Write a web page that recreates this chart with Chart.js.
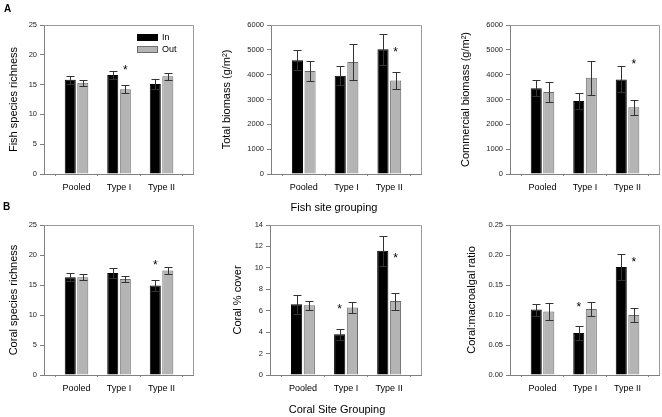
<!DOCTYPE html>
<html>
<head>
<meta charset="utf-8">
<script src="https://cdn.jsdelivr.net/npm/chart.js@4/dist/chart.umd.min.js"></script>
<style>
  body { margin: 0; background: #fff; }
  #wrap { position: relative; width: 662px; height: 417px; overflow: hidden; font-family: 'Liberation Sans', Arial, sans-serif; }
  canvas { position: absolute; left: 0; top: 0; }
  .lbl { position: absolute; color: #000; white-space: nowrap; }
  .panel { font-weight: bold; font-size: 10px; line-height: 10px; }
  .group { width: 200px; text-align: center; font-size: 11px; line-height: 14px; }
</style>
</head>
<body>
<div id="wrap">
  <canvas id="a1" width="662" height="417"></canvas>
  <canvas id="a2" width="662" height="417"></canvas>
  <canvas id="a3" width="662" height="417"></canvas>
  <canvas id="b1" width="662" height="417"></canvas>
  <canvas id="b2" width="662" height="417"></canvas>
  <canvas id="b3" width="662" height="417"></canvas>
  <div class="lbl panel" style="left:4px; top:4px;">A</div>
  <div class="lbl panel" style="left:3px; top:202px;">B</div>
  <div class="lbl group" style="left:234px; top:200px;">Fish site grouping</div>
  <div class="lbl group" style="left:237px; top:402px;">Coral Site Grouping</div>
</div>
<script>
const groups = ['Pooled', 'Type I', 'Type II'];
const seriesNames = ['In', 'Out'];

// A - fish site grouping
const fishRichIn = [15.8, 16.6, 15.1];
const fishRichInErr = [0.7, 0.6, 0.9];
const fishRichOut = [15.3, 14.2, 16.4];
const fishRichOutErr = [0.55, 0.65, 0.6];
const fishRichStars = [[1, 1, 18.0]];        // [group, series, height]

const totalBioIn = [4580, 3960, 5020];
const totalBioInErr = [400, 375, 630];
const totalBioOut = [4150, 4510, 3770];
const totalBioOutErr = [410, 725, 340];
const totalBioStars = [[2, 1, 5030]];

const commBioIn = [3450, 2940, 3810];
const commBioInErr = [320, 310, 520];
const commBioOut = [3300, 3880, 2690];
const commBioOutErr = [400, 680, 310];
const commBioStars = [[2, 1, 4550]];

// B - coral site grouping
const coralRichIn = [16.3, 17.0, 14.9];
const coralRichInErr = [0.7, 0.85, 0.9];
const coralRichOut = [16.3, 16.0, 17.4];
const coralRichOutErr = [0.5, 0.55, 0.6];
const coralRichStars = [[2, 0, 18.9]];

const coverIn = [6.6, 3.8, 11.6];
const coverInErr = [0.9, 0.5, 1.4];
const coverOut = [6.5, 6.3, 6.9];
const coverOutErr = [0.45, 0.5, 0.8];
const coverStars = [[1, 0, 6.45], [2, 1, 11.2]];

const ratioIn = [0.109, 0.070, 0.180];
const ratioInErr = [0.010, 0.012, 0.021];
const ratioOut = [0.106, 0.110, 0.100];
const ratioOutErr = [0.014, 0.011, 0.011];
const ratioStars = [[1, 0, 0.119], [2, 1, 0.194]];

// y axis ranges: [min, max, step]
const richnessAxis = [0, 25, 5];
const biomassAxis = [0, 6000, 1000];
const coverAxis = [0, 14, 2];
const ratioAxis = [0, 0.25, 0.05];

Chart.defaults.font.family = "'Liberation Sans', Arial, sans-serif";

const inColor = '#000000';
const outColor = '#b4b4b4';
const axisGray = '#808080';

function makePanel(id, p) {
  const titleLine = 11;
  const padLeft = p.titleX - titleLine / 2;
  const xAxisH = 24;
  const [l, r, t, b] = p.box;

  const extras = {
    id: 'extras_' + id,
    afterDatasetsDraw(chart) {
      const ctx = chart.ctx;
      const ys = chart.scales.y;
      const area = chart.chartArea;
      ctx.save();
      // error bars
      ctx.strokeStyle = '#333';
      ctx.lineWidth = 1;
      chart.data.datasets.forEach((ds, di) => {
        chart.getDatasetMeta(di).data.forEach((bar, i) => {
          const v = ds.data[i].y, e = ds.errors[i];
          const x = Math.round(bar.x) + 0.5;
          const top = Math.round(ys.getPixelForValue(v + e)) + 0.5;
          const bot = Math.round(ys.getPixelForValue(v - e)) + 0.5;
          ctx.beginPath();
          ctx.moveTo(x, top); ctx.lineTo(x, bot);
          ctx.moveTo(x - 4, top); ctx.lineTo(x + 4, top);
          ctx.moveTo(x - 4, bot); ctx.lineTo(x + 4, bot);
          ctx.stroke();
        });
      });
      // significance stars
      ctx.fillStyle = '#000';
      ctx.font = "12px 'Liberation Sans', Arial, sans-serif";
      ctx.textAlign = 'center';
      ctx.textBaseline = 'alphabetic';
      p.stars.forEach(([g, s, h]) => {
        const bar = chart.getDatasetMeta(s).data[g];
        ctx.fillText('*', bar.x, ys.getPixelForValue(h) + 7);
      });
      // top and right frame lines
      ctx.strokeStyle = '#9a9a9a';
      ctx.beginPath();
      ctx.moveTo(area.left, Math.round(area.top) + 0.5);
      ctx.lineTo(Math.round(area.right) + 0.5, Math.round(area.top) + 0.5);
      ctx.lineTo(Math.round(area.right) + 0.5, area.bottom);
      ctx.stroke();
      // legend
      if (p.legend) {
        const colors = [inColor, outColor];
        const borders = ['#000', '#6c6c6c'];
        ctx.font = "9px 'Liberation Sans', Arial, sans-serif";
        ctx.textAlign = 'left';
        ctx.textBaseline = 'middle';
        seriesNames.forEach((name, k) => {
          const bx = area.right - 56, by = area.top + 9 + k * 12;
          ctx.fillStyle = colors[k];
          ctx.fillRect(bx, by, 21, 7);
          ctx.strokeStyle = borders[k];
          ctx.strokeRect(bx + 0.5, by + 0.5, 20, 6);
          ctx.fillStyle = '#000';
          ctx.fillText(name, bx + 25, by + 4);
        });
      }
      ctx.restore();
    }
  };

  const toPoints = vals => vals.map((v, i) => ({ x: i, y: v }));

  return new Chart(document.getElementById(id), {
    type: 'bar',
    data: {
      datasets: [
        { label: seriesNames[0], data: toPoints(p.inVals), errors: p.inErr,
          backgroundColor: inColor, borderColor: '#000', borderWidth: 1,
          categoryPercentage: 0.59, barPercentage: 0.88 },
        { label: seriesNames[1], data: toPoints(p.outVals), errors: p.outErr,
          backgroundColor: outColor, borderColor: '#6c6c6c', borderWidth: 1,
          categoryPercentage: 0.59, barPercentage: 0.88 }
      ]
    },
    options: {
      responsive: false,
      animation: false,
      events: [],
      layout: { padding: { left: padLeft, top: t, right: 662 - r, bottom: 417 - b - xAxisH } },
      plugins: { legend: { display: false }, tooltip: { enabled: false } },
      scales: {
        x: {
          type: 'linear', min: -0.765, max: 2.74, offset: false,
          afterBuildTicks: s => { s.ticks = groups.map((g, i) => ({ value: i })); },
          afterFit: s => { s.height = xAxisH; },
          ticks: { callback: v => groups[v], font: { size: 9 }, color: '#000', padding: 6,
                   maxRotation: 0, autoSkip: false },
          grid: { drawOnChartArea: false, tickLength: 2, color: axisGray },
          border: { color: axisGray }
        },
        y: {
          min: p.axis[0], max: p.axis[1],
          afterFit: s => { s.width = l - padLeft; },
          ticks: { stepSize: p.axis[2], font: { size: 7.5 }, color: '#222', padding: 3,
                   callback: p.tickFmt || (v => v) },
          grid: { drawOnChartArea: false, tickLength: 4, color: axisGray },
          border: { color: axisGray },
          title: { display: true, text: p.title, color: '#000', padding: 0,
                   font: { size: 11, lineHeight: 1 } }
        }
      }
    },
    plugins: [extras]
  });
}

makePanel('a1', { box: [44, 193, 25, 174], titleX: 14, title: 'Fish species richness',
  inVals: fishRichIn, inErr: fishRichInErr, outVals: fishRichOut, outErr: fishRichOutErr,
  stars: fishRichStars, axis: richnessAxis, legend: true });
makePanel('a2', { box: [271, 421, 25, 174], titleX: 227, title: 'Total biomass (g/m\u00b2)',
  inVals: totalBioIn, inErr: totalBioInErr, outVals: totalBioOut, outErr: totalBioOutErr,
  stars: totalBioStars, axis: biomassAxis });
makePanel('a3', { box: [510, 659, 25, 174], titleX: 466, title: 'Commercial biomass (g/m\u00b2)',
  inVals: commBioIn, inErr: commBioInErr, outVals: commBioOut, outErr: commBioOutErr,
  stars: commBioStars, axis: biomassAxis });
makePanel('b1', { box: [44, 193, 225, 375], titleX: 14, title: 'Coral species richness',
  inVals: coralRichIn, inErr: coralRichInErr, outVals: coralRichOut, outErr: coralRichOutErr,
  stars: coralRichStars, axis: richnessAxis });
makePanel('b2', { box: [270, 421, 225, 375], titleX: 238, title: 'Coral % cover',
  inVals: coverIn, inErr: coverInErr, outVals: coverOut, outErr: coverOutErr,
  stars: coverStars, axis: coverAxis });
makePanel('b3', { box: [510, 659, 225, 375], titleX: 472, title: 'Coral:macroalgal ratio',
  inVals: ratioIn, inErr: ratioInErr, outVals: ratioOut, outErr: ratioOutErr,
  stars: ratioStars, axis: ratioAxis, tickFmt: v => v.toFixed(2) });
</script>
</body>
</html>
